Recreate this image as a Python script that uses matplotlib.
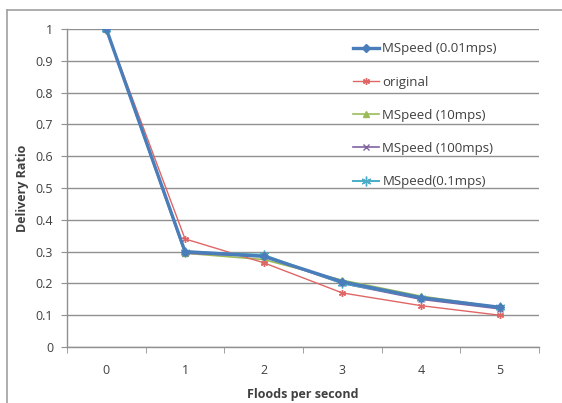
import matplotlib
matplotlib.use("Agg")
import matplotlib.pyplot as plt
from matplotlib.lines import Line2D
from matplotlib.ticker import FixedLocator

# floods per second (category axis)
floods = [0, 1, 2, 3, 4, 5]

mspeed_001 = [1.0, 0.300, 0.285, 0.205, 0.155, 0.125]
original = [1.0, 0.340, 0.265, 0.170, 0.130, 0.100]
mspeed_10 = [1.0, 0.295, 0.275, 0.210, 0.160, 0.125]
mspeed_100 = [1.0, 0.295, 0.285, 0.200, 0.150, 0.120]
mspeed_01 = [1.0, 0.300, 0.290, 0.200, 0.155, 0.125]

series_names = ["MSpeed (0.01mps)", "original", "MSpeed (10mps)",
                "MSpeed (100mps)", "MSpeed(0.1mps)"]
ytick_labels = ["0", "0.1", "0.2", "0.3", "0.4", "0.5", "0.6", "0.7",
                "0.8", "0.9", "1"]

plt.rcParams['font.family'] = ['Open Sans', 'DejaVu Sans']

fig = plt.figure(figsize=(5.62, 4.03), dpi=100)
ax = fig.add_axes([67 / 562, 1 - 347 / 403, (539 - 67) / 562, (347 - 29) / 403])

# chart border (only the top and left edges fall inside the image)
fig.add_artist(Line2D([7 / 562, 1], [1 - 10 / 403, 1 - 10 / 403],
                      transform=fig.transFigure, color="#a0a0a0", lw=1.2))
fig.add_artist(Line2D([7 / 562, 7 / 562], [0, 1 - 10 / 403],
                      transform=fig.transFigure, color="#a0a0a0", lw=1.2))

styles = [
    (mspeed_10, "#9bbb59", "^", 1.2, 4),
    (mspeed_100, "#8064a2", "x", 1.2, 5),
    (original, "#e06666", (6, 2, 0), 1.0, 5),
    (mspeed_01, "#4bacc6", (6, 2, 0), 1.4, 7),
    (mspeed_001, "#4a7ebb", "D", 2.4, 4),
]
handles = {}
for vals, color, marker, lw, ms in styles:
    ln, = ax.plot(floods, vals, color=color, marker=marker, lw=lw, ms=ms,
                  markeredgewidth=1.0, zorder=3)
    handles[id(vals)] = ln

order = [mspeed_001, original, mspeed_10, mspeed_100, mspeed_01]
leg = ax.legend([handles[id(v)] for v in order], series_names,
                loc="upper left", bbox_to_anchor=(0.58, 0.995), frameon=False,
                fontsize=9.5, labelspacing=1.53, handlelength=2.0,
                handletextpad=0.25, labelcolor="#404040")

ax.set_xlim(-0.5, 5.5)
ax.set_ylim(0, 1)
ax.set_yticks([i / 10 for i in range(11)])
ax.set_yticklabels(ytick_labels)
ax.set_xticks(floods)
ax.xaxis.set_minor_locator(FixedLocator([x + 0.5 for x in range(-1, 6)]))
ax.tick_params(axis="x", which="major", length=0, pad=12)
ax.tick_params(axis="x", which="minor", length=4, color="#909090", direction="out")
ax.tick_params(axis="y", length=4, color="#909090", pad=6)
ax.tick_params(labelsize=9, labelcolor="#404040")

ax.grid(axis="y", color="#909090", lw=1.0)
ax.set_axisbelow(True)
for side in ("top", "right"):
    ax.spines[side].set_visible(False)
for side in ("left", "bottom"):
    ax.spines[side].set_color("#909090")
    ax.spines[side].set_linewidth(1.0)

ax.set_xlabel("Floods per second", fontsize=9, fontweight="bold", color="#404040",
              labelpad=8)
ax.set_ylabel("Delivery Ratio", fontsize=9, fontweight="bold", color="#404040",
              labelpad=5)

fig.savefig("out.png", dpi=100)
